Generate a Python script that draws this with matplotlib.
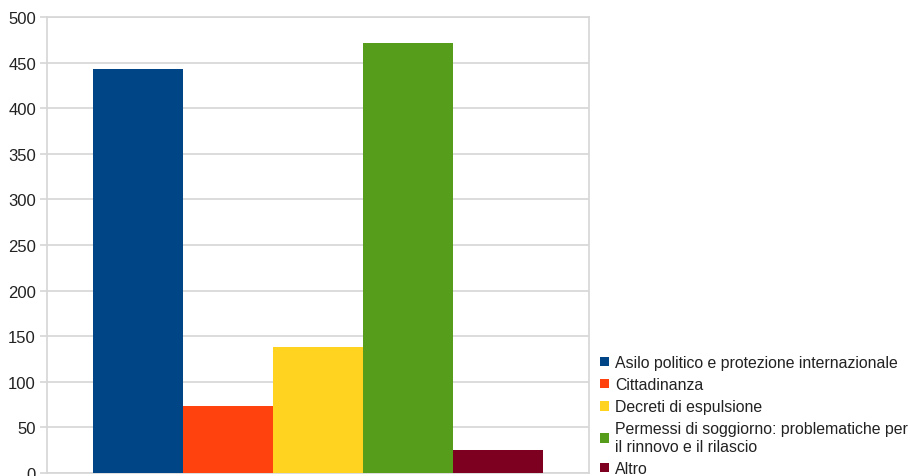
import matplotlib
matplotlib.use('Agg')
import matplotlib.pyplot as plt

# values
categories = [
    'Asilo politico e protezione internazionale',
    'Cittadinanza',
    'Decreti di espulsione',
    'Permessi di soggiorno: problematiche per\nil rinnovo e il rilascio',
    'Altro',
]
values = [443, 74, 138, 472, 25]
colors = ['#004586', '#ff420e', '#ffd320', '#579d1c', '#7e0021']
yticks = [0, 50, 100, 150, 200, 250, 300, 350, 400, 450, 500]

plt.rcParams['font.family'] = ['Liberation Sans', 'DejaVu Sans']

fig = plt.figure(figsize=(9.1, 4.77), dpi=100)
ax = fig.add_axes([47 / 910, 1 - 474 / 477, (589 - 47) / 910, (474 - 18) / 477])

for i, (cat, val, col) in enumerate(zip(categories, values, colors)):
    ax.bar(i, val, width=1.0, color=col, label=cat, zorder=3)

ax.set_xlim(-1.011, 5.011)
ax.set_ylim(0, 500)
ax.set_yticks(yticks)
ax.set_xticks([])
ax.yaxis.grid(True, color='#d6d6d6', linewidth=1.2, zorder=0)
ax.tick_params(axis='y', length=5, width=1.2, color='#d6d6d6', pad=3,
               labelsize=12, labelcolor='#222222')
for side in ['left', 'right', 'top', 'bottom']:
    ax.spines[side].set_color('#d6d6d6')
    ax.spines[side].set_linewidth(1.2)

leg = fig.legend(loc='lower left', bbox_to_anchor=(600 / 910, 0.0),
                 frameon=False, fontsize=11.4, handlelength=0.55, handleheight=0.55,
                 handletextpad=0.4, labelspacing=0.45, borderpad=0,
                 borderaxespad=0)
for t in leg.get_texts():
    t.set_color('#222222')

fig.savefig('out.png', dpi=100)
